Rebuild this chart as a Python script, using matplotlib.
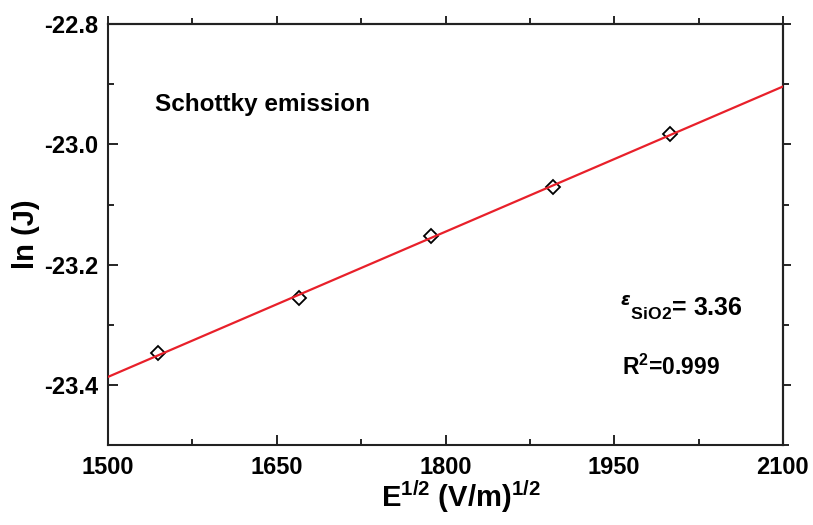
import numpy as np
import matplotlib
matplotlib.use("Agg")
import matplotlib.pyplot as plt
from matplotlib.ticker import MultipleLocator

plt.rcParams["font.family"] = ["Liberation Sans", "DejaVu Sans"]
plt.rcParams["font.weight"] = "bold"
plt.rcParams["mathtext.fontset"] = "custom"
plt.rcParams["mathtext.rm"] = "Liberation Sans"
plt.rcParams["mathtext.bf"] = "Liberation Sans:bold"
plt.rcParams["axes.unicode_minus"] = False

# measured points
e_sqrt = [1544, 1670, 1787, 1896, 2000]
ln_j = [-23.347, -23.256, -23.153, -23.070, -22.982]

# linear fit over the full axis range
coef = np.polyfit(e_sqrt, ln_j, 1)
fit_x = np.array([1500, 2100])
fit_y = np.polyval(coef, fit_x)

fig = plt.figure(figsize=(8.13, 5.25), dpi=100)
ax = fig.add_axes([0.133, 0.152, 0.830, 0.802])

ax.plot(e_sqrt, ln_j, linestyle="none", marker="D", markersize=7.5,
        markerfacecolor="white", markeredgecolor="black",
        markeredgewidth=1.3, zorder=2)
ax.plot(fit_x, fit_y, color="#e8202a", linewidth=1.6, zorder=3)

ax.set_xlim(1500, 2100)
ax.set_ylim(-23.5, -22.8)
ax.xaxis.set_major_locator(MultipleLocator(150))
ax.xaxis.set_minor_locator(MultipleLocator(75))
ax.yaxis.set_major_locator(MultipleLocator(0.2))
ax.yaxis.set_minor_locator(MultipleLocator(0.1))

ax.tick_params(which="both", direction="in", labelsize=17, width=1.2)
ax.tick_params(which="major", length=7)
ax.tick_params(which="minor", length=4)
ax.tick_params(axis="y", pad=7)
ax.tick_params(axis="x", pad=8)
for lab in ax.get_xticklabels() + ax.get_yticklabels():
    lab.set_fontweight("bold")

# outward ticks on top and right
top = ax.secondary_xaxis("top")
top.set_xticks(np.arange(1500, 2101, 150))
top.xaxis.set_minor_locator(MultipleLocator(75))
top.tick_params(which="both", direction="out", labeltop=False, width=1.2)
top.tick_params(which="major", length=6)
top.tick_params(which="minor", length=4)
right = ax.secondary_yaxis("right")
right.yaxis.set_major_locator(MultipleLocator(0.2))
right.yaxis.set_minor_locator(MultipleLocator(0.1))
right.tick_params(which="both", direction="out", labelright=False, width=1.2)
right.tick_params(which="major", length=6)
right.tick_params(which="minor", length=4)

for sp in list(ax.spines.values()) + [top.spines["top"], right.spines["right"]]:
    sp.set_linewidth(1.5)
    sp.set_color("#222222")

ax.set_xlabel(r"E$^{1/2}$ (V/m)$^{1/2}$", fontsize=21, fontweight="bold")
ax.xaxis.set_label_coords(0.523, -0.078)
ax.set_ylabel("ln (J)", fontsize=21, fontweight="bold", labelpad=3)

ax.text(1542, -22.934, "Schottky emission", fontsize=17.5,
        fontweight="bold", va="center")
ax.text(1955, -23.274, r"$^{\epsilon}{}_{\mathbf{SiO2}}$= 3.36", fontsize=18,
        fontweight="bold", va="center")
ax.text(1957, -23.37, r"R$^{\mathbf{2}}$=0.999", fontsize=16.5,
        fontweight="bold", va="center")

fig.savefig("out.png", dpi=100)
